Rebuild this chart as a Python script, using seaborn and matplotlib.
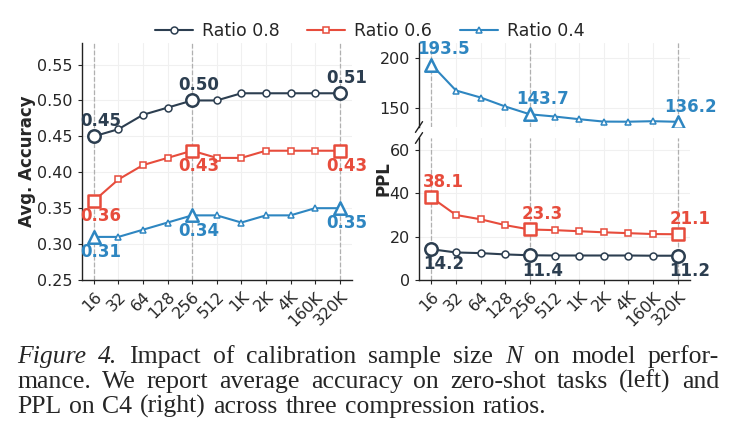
import numpy as np
import pandas as pd
import matplotlib
matplotlib.use("Agg")
import matplotlib.pyplot as plt
import seaborn as sns

# calibration sample sizes (x categories)
sizes = ["16", "32", "64", "128", "256", "512", "1K", "2K", "4K", "160K", "320K"]
ratios = ["Ratio 0.8", "Ratio 0.6", "Ratio 0.4"]

# average zero-shot accuracy
acc_08 = [0.45, 0.46, 0.48, 0.49, 0.50, 0.50, 0.51, 0.51, 0.51, 0.51, 0.51]
acc_06 = [0.36, 0.39, 0.41, 0.42, 0.43, 0.42, 0.42, 0.43, 0.43, 0.43, 0.43]
acc_04 = [0.31, 0.31, 0.32, 0.33, 0.34, 0.34, 0.33, 0.34, 0.34, 0.35, 0.35]

# perplexity on C4
ppl_08 = [14.2, 12.7, 12.4, 11.8, 11.4, 11.3, 11.3, 11.3, 11.3, 11.2, 11.2]
ppl_06 = [38.1, 30.0, 28.0, 25.3, 23.3, 23.0, 22.5, 22.0, 21.6, 21.2, 21.1]
ppl_04 = [193.5, 167.5, 160.5, 151.5, 143.7, 141.5, 138.8, 136.4, 136.3, 136.8, 136.2]

highlight = [0, 4, 10]

colors = {"Ratio 0.8": "#2c3e50", "Ratio 0.6": "#e74c3c", "Ratio 0.4": "#2e86c1"}
markers = {"Ratio 0.8": "o", "Ratio 0.6": "s", "Ratio 0.4": "^"}

sns.set_style("ticks")
plt.rcParams["font.family"] = ["DejaVu Sans"]

fig = plt.figure(figsize=(7.39, 4.47), dpi=100)
W, H = 739, 447


def box(l, t, r, b):
    return [l / W, 1 - b / H, (r - l) / W, (b - t) / H]


ax_acc = fig.add_axes(box(81.5, 43, 352, 280))
ax_top = fig.add_axes(box(419, 43, 690, 127))
ax_bot = fig.add_axes(box(419, 138, 690, 280))

xpos = np.arange(len(sizes))


def draw(ax, name, vals, label_dir, fmt, dx):
    c = colors[name]
    m = markers[name]
    sns.lineplot(x=xpos, y=vals, ax=ax, color=c, marker=m, markersize=5,
                 markerfacecolor="white", markeredgecolor=c, markeredgewidth=1.1,
                 linewidth=1.5, label=name, legend=False)
    hx = xpos[highlight]
    hy = np.array(vals)[highlight]
    ax.scatter(hx, hy, s=80, marker=m, facecolor="white", edgecolor=c,
               linewidth=1.8, zorder=5)
    off = 11 if label_dir == "up" else -11
    for x, y in zip(hx, hy):
        ax.annotate(fmt.format(y), (x, y), xytext=(dx, off), textcoords="offset points",
                    ha="center", va="center", fontsize=12, fontweight="bold", color=c,
                    annotation_clip=False)


draw(ax_acc, "Ratio 0.8", acc_08, "up", "{:.2f}", 5)
draw(ax_acc, "Ratio 0.6", acc_06, "down", "{:.2f}", 5)
draw(ax_acc, "Ratio 0.4", acc_04, "down", "{:.2f}", 5)

draw(ax_top, "Ratio 0.4", ppl_04, "up", "{:.1f}", 9)
draw(ax_bot, "Ratio 0.6", ppl_06, "up", "{:.1f}", 9)
draw(ax_bot, "Ratio 0.8", ppl_08, "down", "{:.1f}", 9)

for ax in (ax_acc, ax_top, ax_bot):
    ax.set_xlim(-0.5, 10.5)
    ax.grid(True, color="#f0f0f0", linewidth=0.8)
    ax.set_axisbelow(True)
    for i in highlight:
        ax.axvline(xpos[i], color="#b0b0b0", linestyle="--", linewidth=0.9, zorder=1)
    sns.despine(ax=ax)
    ax.tick_params(labelsize=11.5, length=3, width=0.8)
    for s in ax.spines.values():
        s.set_color("#222222")
        s.set_linewidth(1.0)

for ax in (ax_acc, ax_bot):
    ax.set_xticks(xpos)
    ax.set_xticklabels(sizes, rotation=45, ha="right", rotation_mode="anchor")

acc_ticks = [0.25, 0.30, 0.35, 0.40, 0.45, 0.50, 0.55]
ax_acc.set_ylim(0.25, 0.58)
ax_acc.set_yticks(acc_ticks)
ax_acc.set_yticklabels([f"{v:.2f}" for v in acc_ticks])
ax_acc.set_ylabel("Avg. Accuracy", fontsize=12, fontweight="bold", labelpad=1)

ax_top.set_ylim(131, 215)
ax_top.set_yticks([150, 200])
ax_top.set_xticks(xpos)
ax_top.tick_params(axis="x", bottom=False, labelbottom=False)
ax_top.spines["bottom"].set_visible(False)

ax_bot.set_ylim(0, 65.5)
ax_bot.set_yticks([0, 20, 40, 60])

# broken-axis marks on the left spine
d = 0.012
kw = dict(color="#222222", linewidth=1.0, clip_on=False, transform=fig.transFigure)
x0 = 419 / W
for yb in (1 - 127 / H, 1 - 138 / H):
    fig.add_artist(plt.Line2D([x0 - d * 0.4, x0 + d * 0.4], [yb - d, yb + d], **kw))

fig.text(384 / W, 1 - 179 / H, "PPL", rotation=90, ha="center", va="center",
         fontsize=12, fontweight="bold")

handles, labels = ax_acc.get_legend_handles_labels()
fig.legend(handles, labels, loc="center", bbox_to_anchor=(0.5, 1 - 31 / H), ncol=3,
           frameon=False, fontsize=12.5, handlelength=2.2, columnspacing=1.6,
           handletextpad=0.5)

# caption, justified for the first two lines
cap_lines = [
    [("Figure", "italic"), ("4.", "italic"), ("Impact", "normal"), ("of", "normal"),
     ("calibration", "normal"), ("sample", "normal"), ("size", "normal"), ("N", "italic"),
     ("on", "normal"), ("model", "normal"), ("perfor-", "normal")],
    [(w, "normal") for w in "mance. We report average accuracy on zero-shot tasks (left) and".split()],
    [(w, "normal") for w in "PPL on C4 (right) across three compression ratios.".split()],
]
cap_size = 18.5
cap_left, cap_right = 17, 719
baselines = [363, 388, 413]
fig.canvas.draw()
renderer = fig.canvas.get_renderer()
for li, words in enumerate(cap_lines):
    texts = []
    for w, style in words:
        t = fig.text(0, 1 - baselines[li] / H, w, fontsize=cap_size, family="Liberation Serif",
                     style=style, ha="left", va="baseline")
        texts.append(t)
    widths = [t.get_window_extent(renderer).width for t in texts]
    if li < 2:
        gap = (cap_right - cap_left - sum(widths)) / (len(texts) - 1)
    else:
        gap = cap_size * 0.3 * 100 / 72
    x = cap_left
    for t, w in zip(texts, widths):
        t.set_x(x / W)
        x += w + gap

fig.savefig("out.png", dpi=100)
